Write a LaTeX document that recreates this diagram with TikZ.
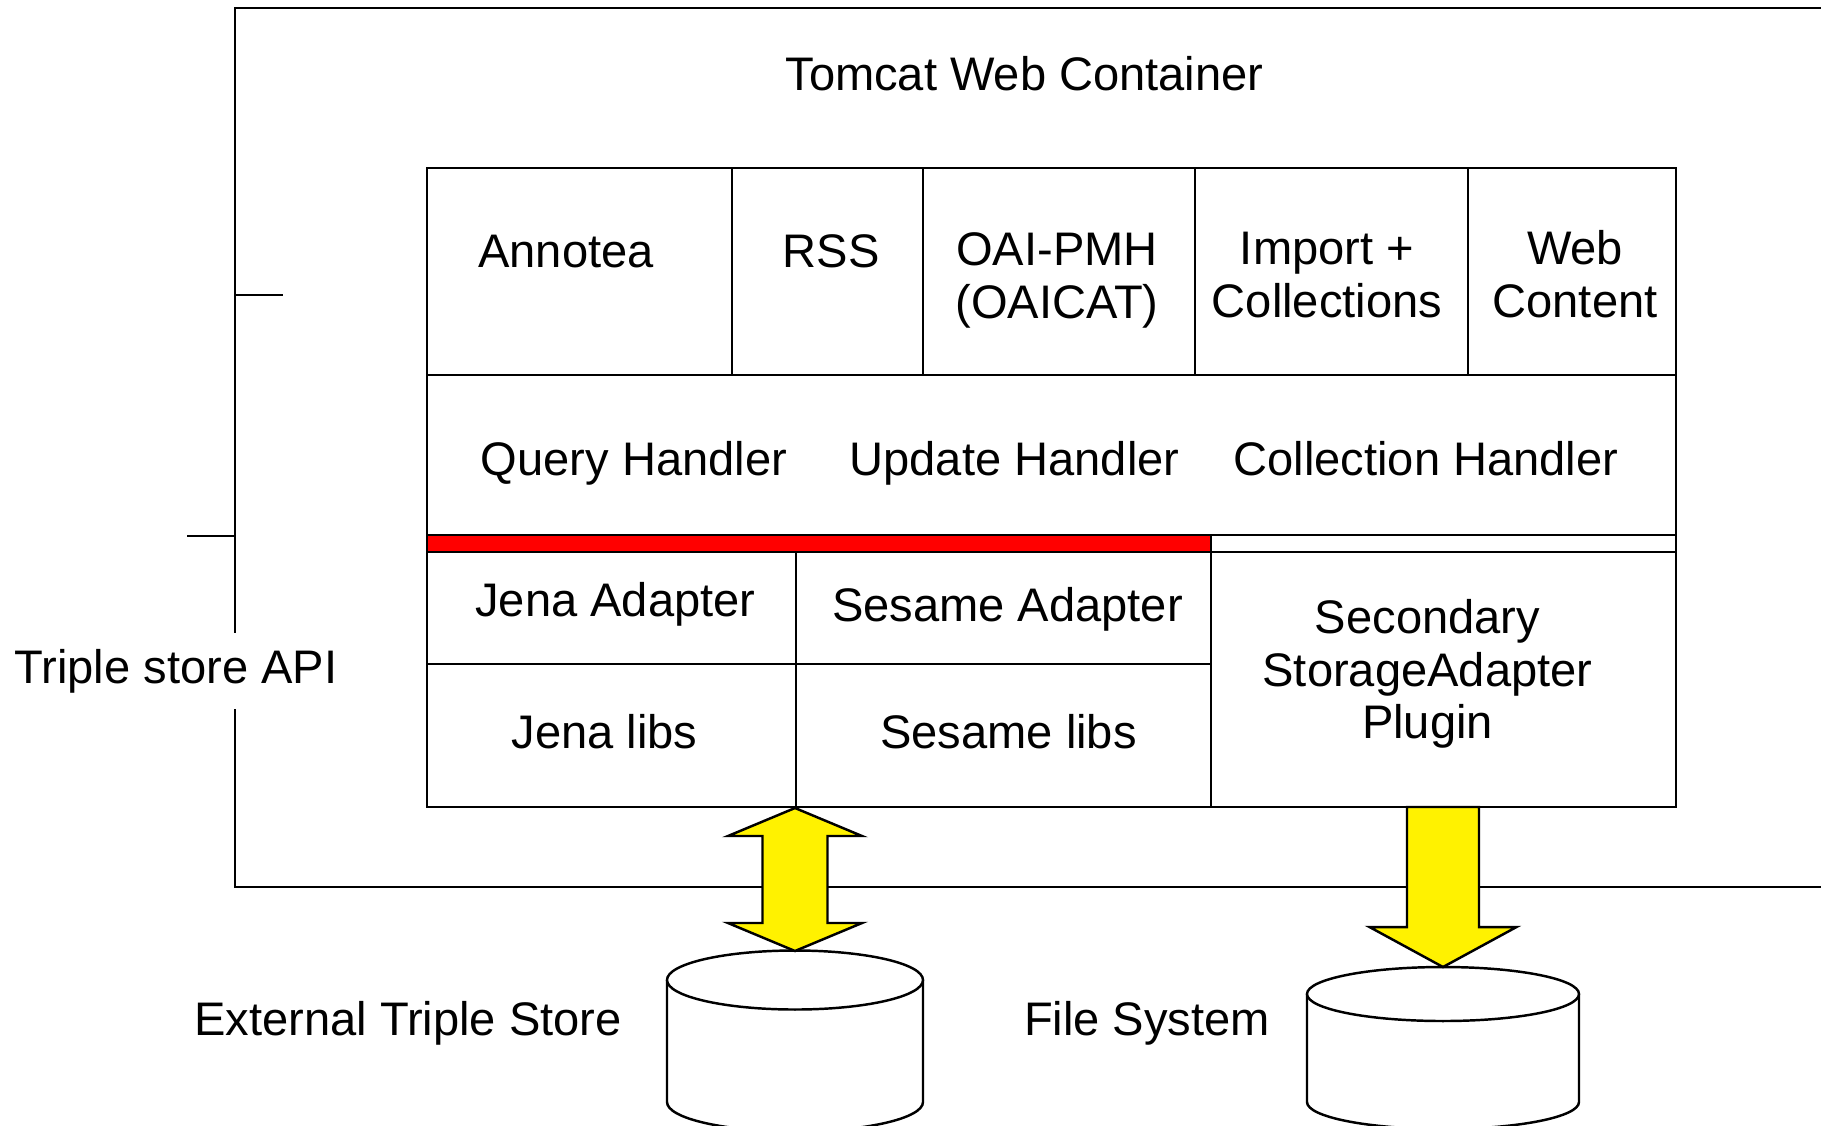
\documentclass[tikz,border=0pt]{standalone}
\usepackage{fontspec}
\setmainfont{Liberation Sans}
\begin{document}
\begin{tikzpicture}[
    line width=0.7pt,
    cell/.style={draw, inner sep=0pt},
    lbl/.style={anchor=base, align=center, inner sep=0pt,
                font=\fontsize{13.4}{14.8}\selectfont},
    bigarrow/.style={draw, fill=yellow, line join=miter},
    disk/.style={draw, fill=white}
  ]
  \useasboundingbox (0,0) rectangle (18.21,-11.25);
  \clip (0,0) rectangle (18.21,-11.25);

  % web container (runs past the right edge)
  \draw (18.4,-0.08) -- (2.35,-0.08) -- (2.35,-8.87) -- (18.4,-8.87);
  \draw (2.35,-2.95) -- (2.83,-2.95);
  \draw (1.87,-5.36) -- (2.35,-5.36);
  \node[lbl] (tomcat) at (10.245,-0.90) {Tomcat Web Container};
  \node[lbl, fill=white, inner xsep=0.02cm, inner ysep=0.16cm] (api) at (1.76,-6.83) {Triple store API};

  % service row
  \node[cell, minimum width=3.05cm, minimum height=2.07cm] (annotea) at (5.795,-2.715) {};
  \node[cell, minimum width=1.91cm, minimum height=2.07cm] (rss)     at (8.275,-2.715) {};
  \node[cell, minimum width=2.72cm, minimum height=2.07cm] (oai)     at (10.59,-2.715) {};
  \node[cell, minimum width=2.73cm, minimum height=2.07cm] (import)  at (13.315,-2.715) {};
  \node[cell, minimum width=2.08cm, minimum height=2.07cm] (web)     at (15.72,-2.715) {};
  \node[lbl] (annotea-t) at (5.66,-2.67)  {Annotea};
  \node[lbl] (rss-t)     at (8.31,-2.67)  {RSS};
  \node[lbl] (oai-t)     at (10.57,-3.18) {OAI-PMH\\(OAICAT)};
  \node[lbl] (import-t)  at (13.27,-3.17) {Import +\\Collections};
  \node[lbl] (web-t)     at (15.75,-3.17) {Web\\Content};

  % handler row
  \node[cell, minimum width=12.49cm, minimum height=1.60cm] (handlers) at (10.515,-4.55) {};
  \node[lbl] (query)  at (6.34,-4.75)   {Query Handler};
  \node[lbl] (update) at (10.145,-4.75) {Update Handler};
  \node[lbl] (coll)   at (14.26,-4.75)  {Collection Handler};

  % api strip
  \node[cell, fill=red, minimum width=7.84cm, minimum height=0.17cm] (redbar) at (8.19,-5.435) {};
  \node[cell, minimum width=4.65cm, minimum height=0.17cm] (strip) at (14.435,-5.435) {};

  % adapters and libs
  \node[cell, minimum width=3.69cm, minimum height=1.12cm] (jenaad) at (6.115,-6.08) {};
  \node[cell, minimum width=4.15cm, minimum height=1.12cm] (sesad)  at (10.035,-6.08) {};
  \node[cell, minimum width=3.69cm, minimum height=1.43cm] (jenalib) at (6.115,-7.355) {};
  \node[cell, minimum width=4.15cm, minimum height=1.43cm] (seslib)  at (10.035,-7.355) {};
  \node[cell, minimum width=4.65cm, minimum height=2.55cm] (plugin)  at (14.435,-6.795) {};
  \node[lbl] (jenaad-t)  at (6.155,-6.16)  {Jena Adapter};
  \node[lbl] (sesad-t)   at (10.075,-6.21) {Sesame Adapter};
  \node[lbl] (jenalib-t) at (6.045,-7.48)  {Jena libs};
  \node[lbl] (seslib-t)  at (10.085,-7.48) {Sesame libs};
  \node[lbl] (plugin-t)  at (14.275,-7.38) {Secondary\\StorageAdapter\\Plugin};

  % stores
  \draw[disk] (6.67,-9.80) -- (6.67,-11.02)
    arc[start angle=180, end angle=360, x radius=1.28, y radius=0.295] -- (9.23,-9.80);
  \draw[disk] (7.95,-9.80) ellipse [x radius=1.28, y radius=0.295];
  \draw[disk] (13.07,-9.94) -- (13.07,-11.02)
    arc[start angle=180, end angle=360, x radius=1.36, y radius=0.27] -- (15.79,-9.94);
  \draw[disk] (14.43,-9.94) ellipse [x radius=1.36, y radius=0.27];
  \coordinate (ts-top) at (7.95,-8.08);
  \coordinate (ts-bot) at (7.95,-9.51);
  \coordinate (fs-top) at (14.43,-8.07);
  \coordinate (fs-bot) at (14.43,-9.67);
  \node[lbl] (ts-t) at (4.08,-10.35)  {External Triple Store};
  \node[lbl] (fs-t) at (11.47,-10.35) {File System};

  % block arrows
  \draw[bigarrow] (ts-top) -- ++(0.67,-0.28) -- ++(-0.345,0) -- ++(0,-0.87)
    -- ++(0.345,0) -- (ts-bot) -- ++(-0.67,0.28) -- ++(0.345,0) -- ++(0,0.87)
    -- ++(-0.345,0) -- cycle;
  \draw[bigarrow] (fs-top) -- ++(0.36,0) -- ++(0,-1.20) -- ++(0.375,0) -- (fs-bot)
    -- ++(-0.735,0.40) -- ++(0.375,0) -- ++(0,1.20) -- cycle;
\end{tikzpicture}
\end{document}
